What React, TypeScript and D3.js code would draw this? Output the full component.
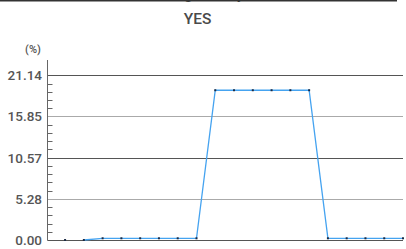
import { useRef, useEffect } from 'react';
import * as d3 from 'd3';

const title = 'Rating Survey';
const subtitle = 'YES';
const unitLabel = '(%)';
const pointIndex = [1, 2, 3, 4, 5, 6, 7, 8, 9, 10, 11, 12, 13, 14, 15, 16, 17, 18, 19];
const values = [0, 0, 0.22, 0.22, 0.22, 0.22, 0.22, 0.22, 19.22, 19.22, 19.22, 19.22, 19.22, 19.22, 0.22, 0.22, 0.22, 0.22, 0.22];
const tickValues = [0, 5.28, 10.57, 15.85, 21.14];
const tickLabels = ['0.00', '5.28', '10.57', '15.85', '21.14'];

const W = 406;
const H = 249;

export default function App() {
  const svgRef = useRef<SVGSVGElement>(null);

  useEffect(() => {
    if (!svgRef.current) return;
    const svg = d3.select(svgRef.current);
    svg.selectAll('*').remove();

    const axisX = 47.5;
    const x = d3.scaleLinear().domain([0, 19]).range([46.3, 403]);
    const y = d3.scaleLinear().domain([0, 23.1]).range([240, 60]);
    const font = 'Roboto, "Noto Sans", sans-serif';

    // top border + clipped title
    svg.append('text')
      .attr('x', 196)
      .attr('y', -1)
      .attr('text-anchor', 'middle')
      .attr('font-family', font)
      .attr('font-size', 16)
      .attr('fill', '#444')
      .text(title);
    svg.append('rect')
      .attr('x', 0).attr('y', 0).attr('width', 397).attr('height', 1.5)
      .attr('fill', '#333');

    svg.append('text')
      .attr('x', 197.5)
      .attr('y', 23.5)
      .attr('text-anchor', 'middle')
      .attr('font-family', font)
      .attr('font-weight', 500)
      .attr('font-size', 15.5)
      .attr('fill', '#4a4a4a')
      .text(subtitle);

    svg.append('text')
      .attr('x', 33)
      .attr('y', 53)
      .attr('text-anchor', 'middle')
      .attr('font-family', font)
      .attr('font-weight', 500)
      .attr('font-size', 11)
      .attr('fill', '#555')
      .text(unitLabel);

    // gridlines
    svg.selectAll('.grid')
      .data(tickValues)
      .enter()
      .append('line')
      .attr('x1', axisX)
      .attr('x2', 403)
      .attr('y1', (d) => Math.round(y(d)) + 0.5)
      .attr('y2', (d) => Math.round(y(d)) + 0.5)
      .attr('stroke', (_, i) => (i % 2 === 0 ? '#555' : '#aaa'))
      .attr('stroke-width', 1);

    // minor ticks
    const minor = d3.range(1, 20).map((k) => (k * 21.14) / 20).filter((v) => tickValues.every((t) => Math.abs(t - v) > 0.1));
    svg.selectAll('.minor')
      .data(minor)
      .enter()
      .append('line')
      .attr('x1', axisX)
      .attr('x2', axisX + 5)
      .attr('y1', (d) => Math.round(y(d)) + 0.5)
      .attr('y2', (d) => Math.round(y(d)) + 0.5)
      .attr('stroke', '#666')
      .attr('stroke-width', 1);

    // axis line
    svg.append('line')
      .attr('x1', axisX).attr('x2', axisX)
      .attr('y1', 60).attr('y2', y(0) + 0.5)
      .attr('stroke', '#666')
      .attr('stroke-width', 1);

    // tick labels
    svg.selectAll('.tl')
      .data(tickValues)
      .enter()
      .append('text')
      .attr('x', 42)
      .attr('y', (d) => y(d) + 5)
      .attr('text-anchor', 'end')
      .attr('font-family', font)
      .attr('font-weight', 500)
      .attr('font-size', 13.5)
      .attr('fill', '#555')
      .text((_, i) => tickLabels[i]);

    const pts = pointIndex.map((k, i) => ({ k, v: values[i] }));

    // line
    const line = d3.line<{ k: number; v: number }>()
      .x((d) => x(d.k))
      .y((d) => y(d.v));
    svg.append('path')
      .datum(pts.slice(1))
      .attr('d', line)
      .attr('fill', 'none')
      .attr('stroke', '#45a3f0')
      .attr('stroke-width', 1.3);

    // dots
    svg.selectAll('.dot')
      .data(pts)
      .enter()
      .append('rect')
      .attr('x', (d) => x(d.k) - 1)
      .attr('y', (d) => y(d.v) - 1)
      .attr('width', 2)
      .attr('height', 2)
      .attr('fill', '#1a2a44');
  }, []);

  return (
    <svg
      ref={svgRef}
      width={W}
      height={H}
      style={{ position: 'absolute', left: 0, top: 0, background: '#fff' }}
    />
  );
}
